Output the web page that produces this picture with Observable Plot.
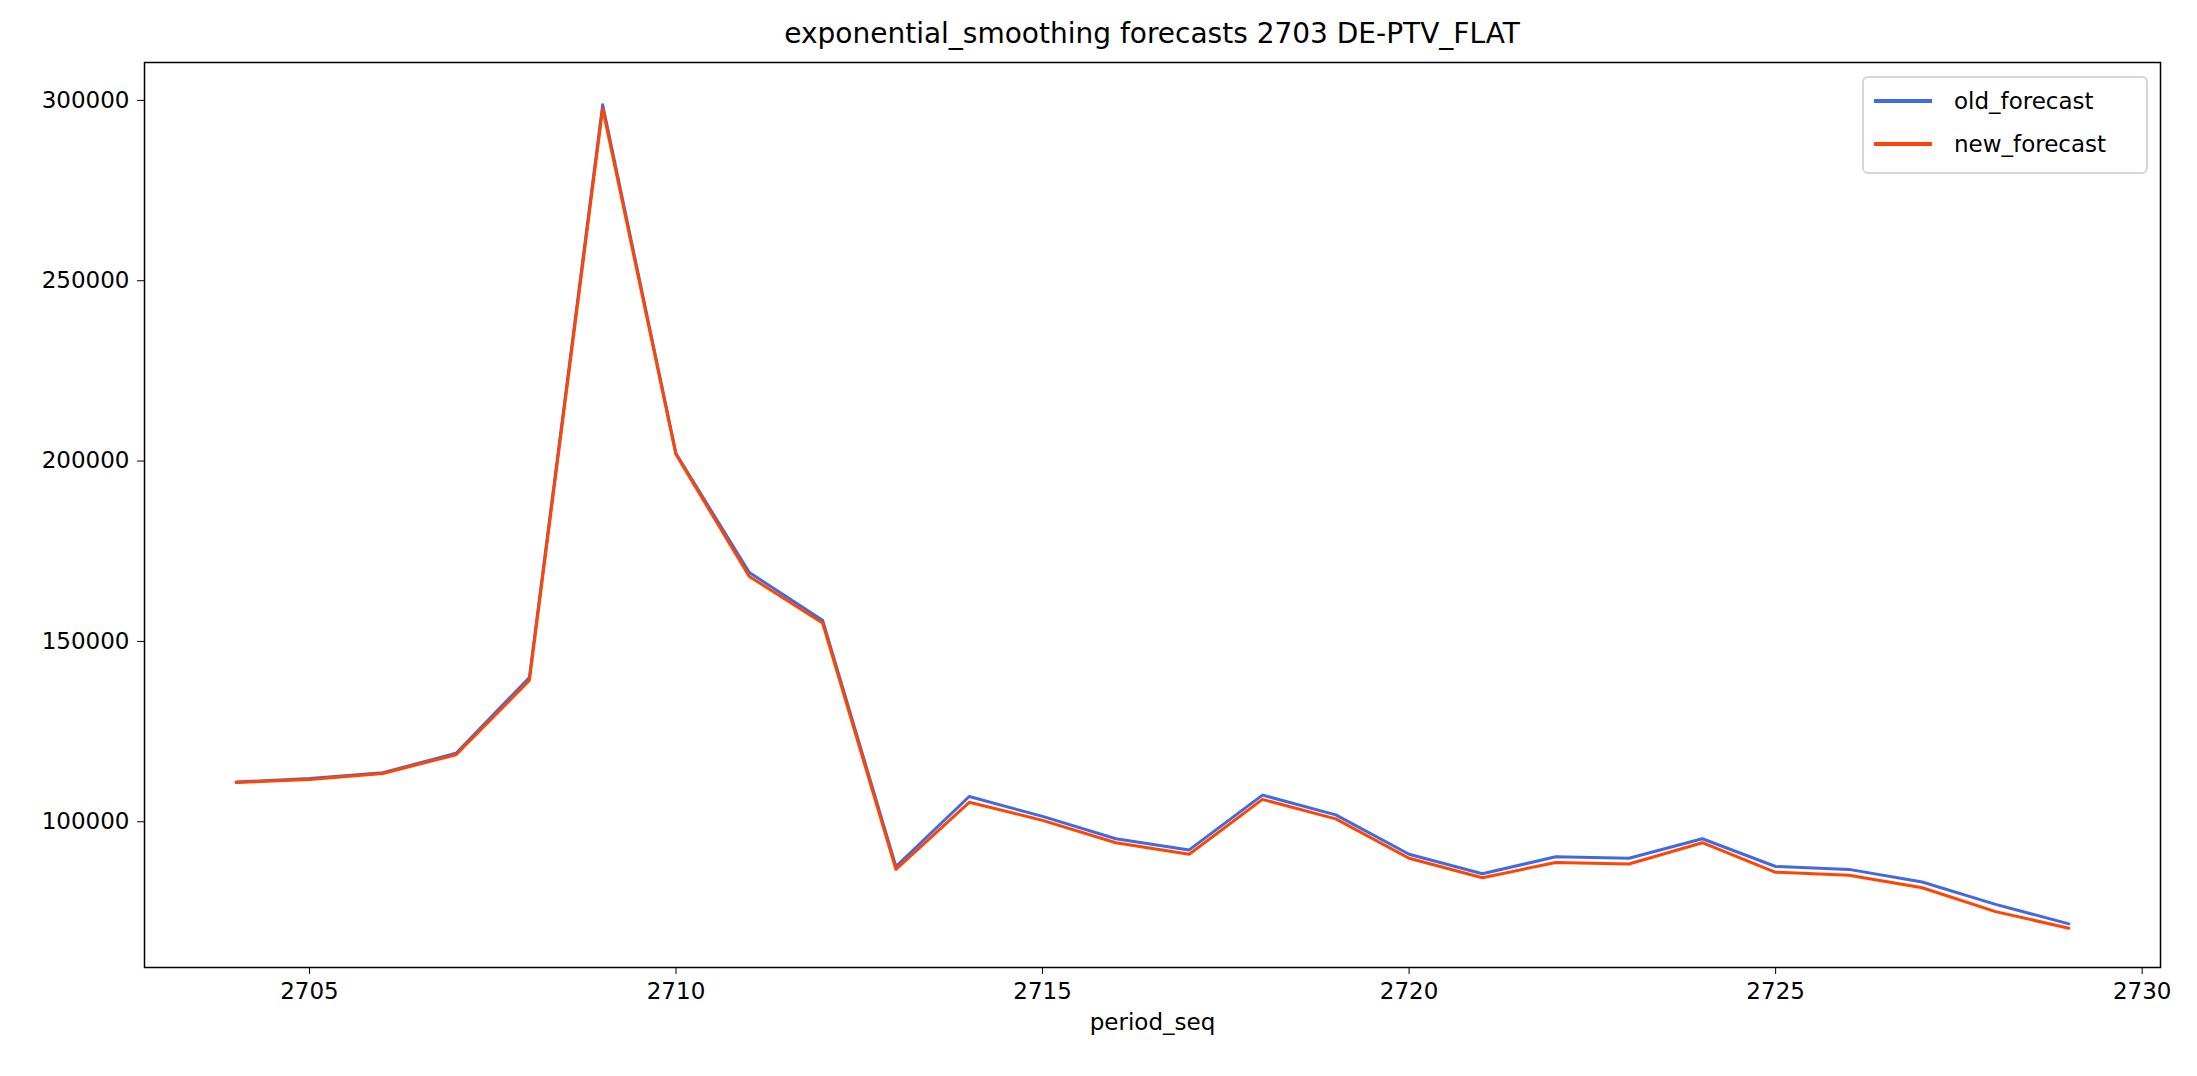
<!DOCTYPE html>
<html><head><meta charset="utf-8">
<script src="https://cdn.jsdelivr.net/npm/d3@7"></script>
<script src="https://cdn.jsdelivr.net/npm/@observablehq/plot@0.6"></script>
<style>
body{margin:0;background:#fff;font-family:"DejaVu Sans",sans-serif;}
#wrap{position:relative;width:2197px;height:1076px;}
#title{position:absolute;top:17px;left:144px;width:2016px;text-align:center;font-size:28px;}
#legend{position:absolute;top:76px;left:1862px;width:282px;height:94px;border:2px solid #d6d6d6;border-radius:6px;background:#fff;font-size:23px;}
.row{position:absolute;left:10px;display:flex;align-items:center;}
.sw{width:58px;height:4px;margin-right:22px;}
svg{position:absolute;top:0;left:0;}
</style></head>
<body><div id="wrap"><div id="title">exponential_smoothing forecasts 2703 DE-PTV_FLAT</div><div id="chart"></div>
<div id="legend"><div class="row" style="top:10px"><div class="sw" style="background:#4169e1"></div>old_forecast</div>
<div class="row" style="top:53px"><div class="sw" style="background:#ff4500"></div>new_forecast</div></div></div>
<script>
const periods = d3.range(2704, 2730);
const oldForecast = [111000,112000,113600,119000,140000,298800,202100,169100,155900,87600,107000,101500,95300,92200,107400,101900,91000,85600,90300,89900,95300,87600,86800,83300,77100,71700];
const newForecast = [110900,111700,113400,118600,139200,297700,201800,168000,155100,86800,105400,100400,94200,91000,106200,100800,89900,84500,88700,88300,94200,86000,85200,81700,75100,70500];
const yTicks = [100000,150000,200000,250000,300000];

const data = [];
periods.forEach((p,i)=>{
  data.push({p, v: oldForecast[i], s:"old_forecast"});
  data.push({p, v: newForecast[i], s:"new_forecast"});
});

const chart = Plot.plot({
  width: 2197, height: 1076,
  marginTop: 62, marginLeft: 144, marginRight: 37, marginBottom: 109,
  style: {fontFamily: "DejaVu Sans", fontSize: "23px", color: "black", background: "transparent"},
  x: {domain: [2702.75, 2730.25], ticks: [2705,2710,2715,2720,2725,2730], tickFormat: d => String(d), tickSize: 7, tickPadding: 8, label: "period_seq", labelAnchor: "center", labelArrow: "none", labelOffset: 62},
  y: {domain: [59600, 310500], ticks: yTicks, tickFormat: d => String(d), tickSize: 7, tickPadding: 8, label: null},
  color: {domain: ["old_forecast","new_forecast"], range: ["#4169e1","#ff4500"]},
  marks: [
    Plot.line(data, {x: "p", y: "v", z: "s", stroke: "s", strokeWidth: 3}),
    Plot.frame({stroke: "black", strokeWidth: 1.5})
  ]
});
document.getElementById("chart").append(chart);
</script></body></html>
